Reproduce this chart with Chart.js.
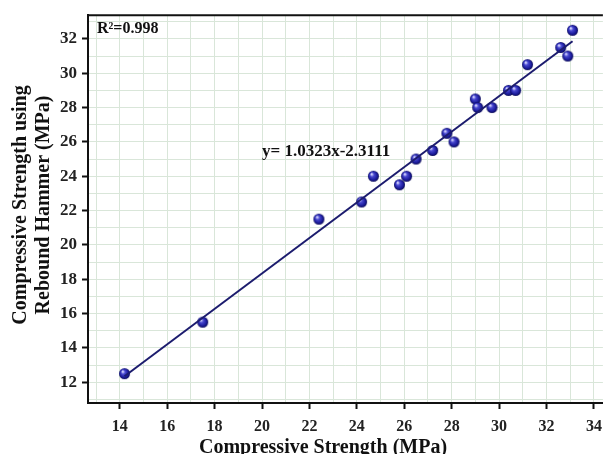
<!DOCTYPE html>
<html>
<head>
<meta charset="utf-8">
<script src="https://cdn.jsdelivr.net/npm/chart.js@4"></script>
<style>
  html, body { margin: 0; padding: 0; background: #fff; }
  canvas { display: block; }
</style>
</head>
<body>
<canvas id="chart" width="610" height="454"></canvas>
<script>
const strengthX = [14.2, 17.5, 22.4, 24.2, 24.7, 25.8, 26.1, 26.5, 27.2, 27.8, 28.1, 29.0, 29.1, 29.7, 30.4, 30.7, 31.2, 32.6, 32.9, 33.1];
const hammerY   = [12.5, 15.5, 21.5, 22.5, 24.0, 23.5, 24.0, 25.0, 25.5, 26.5, 26.0, 28.5, 28.0, 28.0, 29.0, 29.0, 30.5, 31.5, 31.0, 32.5];

// fitted line end points
const fitX = [14.2, 33.1];
const fitY = [12.35, 31.86];

const xTickLabels = [14, 16, 18, 20, 22, 24, 26, 28, 30, 32, 34];
const yTickLabels = [12, 14, 16, 18, 20, 22, 24, 26, 28, 30, 32];

const xTitle = 'Compressive Strength (MPa)';
const yTitle = ['Compressive Strength using', 'Rebound Hammer (MPa)'];
const r2Text = 'R\u00B2=0.998';
const eqText = 'y= 1.0323x-2.3111';

const serif = '"Liberation Serif", "DejaVu Serif", serif';

// shaded ball used as point marker
function makeBall(r) {
    const c = document.createElement('canvas');
    c.width = c.height = r * 2 + 2;
    const g = c.getContext('2d');
    const cx = r + 1, cy = r + 1;
    const grad = g.createRadialGradient(cx - r * 0.35, cy - r * 0.4, r * 0.1, cx, cy, r);
    grad.addColorStop(0, '#d8d8ff');
    grad.addColorStop(0.3, '#4848d0');
    grad.addColorStop(0.75, '#1a1a9a');
    grad.addColorStop(1, '#0c0c55');
    g.fillStyle = grad;
    g.beginPath();
    g.arc(cx, cy, r, 0, Math.PI * 2);
    g.fill();
    return c;
}
const ball = makeBall(5.5);

function intTicks(scale) {
    const ticks = [];
    for (let v = Math.ceil(scale.min); v <= Math.floor(scale.max); v++) ticks.push({ value: v });
    scale.ticks = ticks;
}

const textPlugin = {
    id: 'textPlugin',
    afterDraw(chart) {
        const ctx = chart.ctx;
        const area = chart.chartArea;
        ctx.save();
        // top frame line
        ctx.strokeStyle = '#111';
        ctx.lineWidth = 2;
        ctx.beginPath();
        ctx.moveTo(area.left, area.top);
        ctx.lineTo(area.right, area.top);
        ctx.stroke();

        ctx.fillStyle = '#111';
        ctx.font = 'bold 20px ' + serif;
        ctx.textAlign = 'center';
        ctx.textBaseline = 'alphabetic';
        ctx.fillText(xTitle, 323, 453);

        ctx.save();
        ctx.translate(0, 205);
        ctx.rotate(-Math.PI / 2);
        ctx.textBaseline = 'middle';
        ctx.fillText(yTitle[0], 0, 21);
        ctx.fillText(yTitle[1], 0, 44);
        ctx.restore();

        ctx.textAlign = 'left';
        ctx.font = 'bold 16px ' + serif;
        ctx.textBaseline = 'alphabetic';
        ctx.fillText(r2Text, 97, 33);
        ctx.font = 'bold 17px ' + serif;
        ctx.textBaseline = 'middle';
        ctx.fillText(eqText, 262, 152);
        ctx.restore();
    }
};

const gridColor = '#d9e6d9';

new Chart(document.getElementById('chart'), {
    type: 'scatter',
    data: {
        datasets: [
            {
                type: 'line',
                data: fitX.map((x, i) => ({ x, y: fitY[i] })),
                borderColor: '#1c1c6e',
                borderWidth: 2,
                pointRadius: 0,
                fill: false
            },
            {
                data: strengthX.map((x, i) => ({ x, y: hammerY[i] })),
                pointStyle: ball,
                pointRadius: 5.5
            }
        ]
    },
    options: {
        responsive: false,
        animation: false,
        layout: { padding: { top: 11, right: 5, left: 0, bottom: 0 } },
        plugins: { legend: { display: false }, tooltip: { enabled: false } },
        scales: {
            x: {
                type: 'linear',
                min: 12.66,
                max: 34.38,
                afterBuildTicks: intTicks,
                afterFit: s => { s.height = 51; },
                border: { color: '#111', width: 2 },
                grid: {
                    color: gridColor,
                    tickLength: 6,
                    tickWidth: 2,
                    tickColor: c => xTickLabels.includes(c.tick.value) ? '#111' : 'rgba(0,0,0,0)'
                },
                ticks: {
                    autoSkip: false,
                    maxRotation: 0,
                    padding: 8,
                    color: '#222',
                    font: { family: serif, size: 16, weight: 'bold' },
                    callback: v => xTickLabels.includes(v) ? String(v) : ''
                }
            },
            y: {
                type: 'linear',
                min: 10.79,
                max: 33.38,
                afterBuildTicks: intTicks,
                afterFit: s => { s.width = 88; },
                border: { color: '#111', width: 2 },
                grid: {
                    color: gridColor,
                    tickLength: 6,
                    tickWidth: 2,
                    tickColor: c => yTickLabels.includes(c.tick.value) ? '#111' : 'rgba(0,0,0,0)'
                },
                ticks: {
                    autoSkip: false,
                    padding: 5,
                    color: '#222',
                    font: { family: serif, size: 17, weight: 'bold' },
                    callback: v => yTickLabels.includes(v) ? String(v) : ''
                }
            }
        }
    },
    plugins: [textPlugin]
});
</script>
</body>
</html>
